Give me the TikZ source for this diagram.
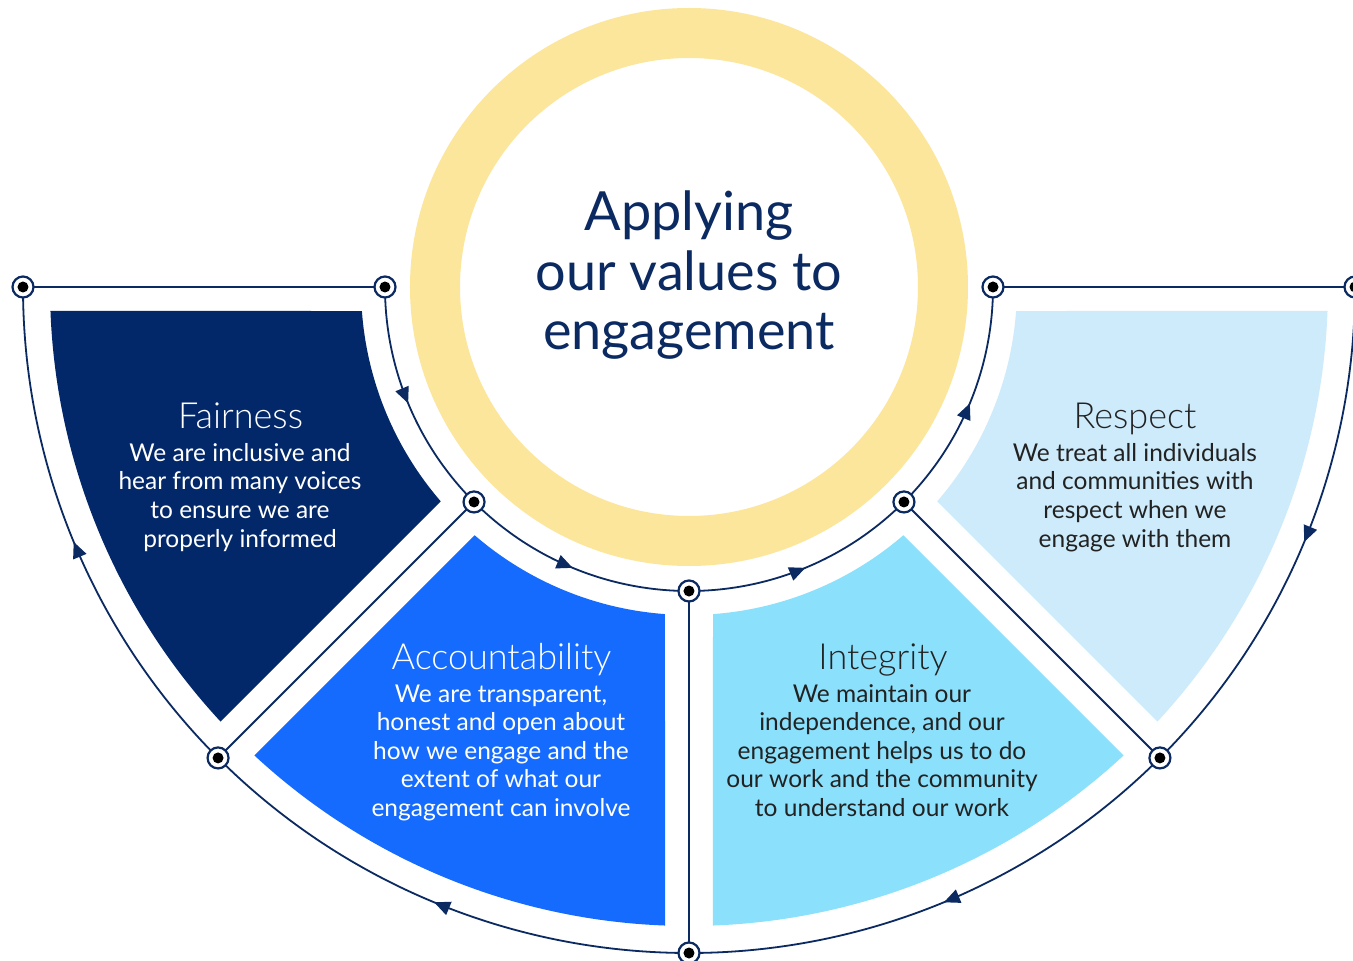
\documentclass[tikz,border=0pt]{standalone}
\usepackage{fontspec}
\setmainfont{Lato}
\newfontfamily\headfont{Lato Light}
\usetikzlibrary{arrows.meta,decorations.markings}

\definecolor{navy}{HTML}{0B2A62}
\definecolor{fairblue}{HTML}{03286A}
\definecolor{accblue}{HTML}{156BFD}
\definecolor{intblue}{HTML}{8BE0FC}
\definecolor{respblue}{HTML}{CDEBFB}
\definecolor{ringyellow}{HTML}{FCE69B}
\definecolor{bodygrey}{HTML}{222222}

% annular sector between two radial lines, kept 24pt clear of each line
\newcommand{\valuesector}[3]{%
  \fill[#1] ({#2+2.152}:639) arc[start angle={#2+2.152}, end angle={#3-2.152}, radius=639pt]
    -- ({#3-4.197}:328) arc[start angle={#3-4.197}, end angle={#2+4.197}, radius=328pt] -- cycle;}

\begin{document}
\begin{tikzpicture}[x=1pt,y=1pt,
  link/.style={draw=navy, line width=1.8pt},
  flow/.style={link, postaction={decorate},
    decoration={markings, mark=at position 0.5 with {\arrow{Triangle[length=16pt,width=14pt]}}}},
  hub/.style={circle, draw=navy, line width=2.2pt, fill=white, minimum size=21pt, inner sep=0pt,
    path picture={\fill[black] (path picture bounding box.center) circle[radius=5.5pt];}},
  headline/.style={anchor=base, inner sep=0pt, font=\headfont\fontsize{36}{36}\selectfont},
  % multi-line text: the base anchor sits on the last line's baseline
  bodytext/.style={anchor=base, inner sep=0pt, align=center, font=\fontsize{24.5}{28.65}\selectfont},
]
\useasboundingbox (-689,-674) rectangle (664,287);
\fill[white] (-689,-674) rectangle (664,287);

% central ring
\fill[ringyellow, even odd rule] (0,0) circle[radius=279pt] (0,0) circle[radius=229pt];
\node[anchor=base, inner sep=0pt, align=center, text=navy,
  font=\fontsize{54}{59.5}\selectfont] (title) at (0,-63) {Applying\\our values to\\engagement};

% coloured value sectors
\valuesector{fairblue}{180}{225}
\valuesector{accblue}{225}{270}
\valuesector{intblue}{270}{315}
\valuesector{respblue}{315}{360}

% hub positions
\foreach \k/\a in {0/180,1/225,2/270,3/315,4/360} {
  \coordinate (pi\k) at (\a:304);
  \coordinate (po\k) at (\a:666);
}

% radial connectors
\draw[link] (po0) -- (pi0);
\draw[link] (pi1) -- (po1);
\draw[link] (pi2) -- (po2);
\draw[link] (pi3) -- (po3);
\draw[link] (pi4) -- (po4);

% inner ring runs left to right, outer ring runs back
\draw[flow] (pi0) arc[start angle=180, end angle=225, radius=304pt];
\draw[flow] (pi1) arc[start angle=225, end angle=270, radius=304pt];
\draw[flow] (pi2) arc[start angle=270, end angle=315, radius=304pt];
\draw[flow] (pi3) arc[start angle=315, end angle=360, radius=304pt];
\draw[flow] (po4) arc[start angle=360, end angle=315, radius=666pt];
\draw[flow] (po3) arc[start angle=315, end angle=270, radius=666pt];
\draw[flow] (po2) arc[start angle=270, end angle=225, radius=666pt];
\draw[flow] (po1) arc[start angle=225, end angle=180, radius=666pt];

% hubs
\foreach \k in {0,...,4} {
  \node[hub] (hi\k) at (pi\k) {};
  \node[hub] (ho\k) at (po\k) {};
}

% sector texts
\node[headline, text=white] (fairT) at (-448.5,-141) {Fairness};
\node[bodytext, text=white] (fairB) at (-449,-260) {We are inclusive and\\hear from many voices\\to ensure we are\\properly informed};

\node[headline, text=white] (accT) at (-187.5,-382) {Accountability};
\node[bodytext, text=white] (accB) at (-188,-529.6) {We are transparent,\\honest and open about\\how we engage and the\\extent of what our\\engagement can involve};

\node[headline, text=bodygrey] (intT) at (194,-382) {Integrity};
\node[bodytext, text=bodygrey] (intB) at (193,-529.6) {We maintain our\\independence, and our\\engagement helps us to do\\our work and the community\\to understand our work};

\node[headline, text=bodygrey] (resT) at (446,-141) {Respect};
\node[bodytext, text=bodygrey] (resB) at (446,-260) {We treat all individuals\\and communities with\\respect when we\\engage with them};
\end{tikzpicture}
\end{document}
